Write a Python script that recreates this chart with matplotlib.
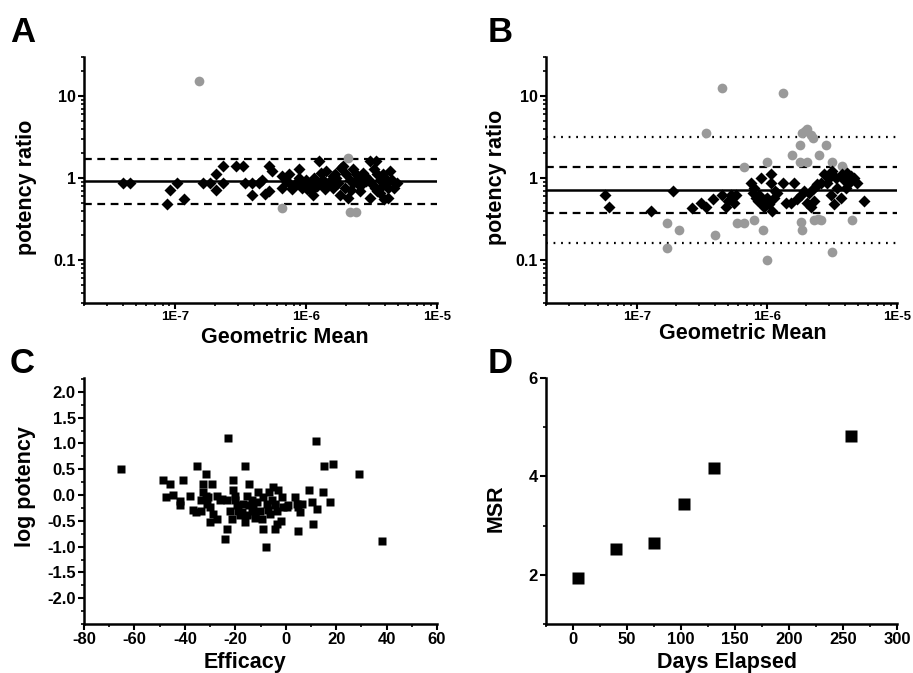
import matplotlib
matplotlib.use("Agg")
import matplotlib.pyplot as plt
import numpy as np
from matplotlib.ticker import FixedLocator, LogLocator, NullFormatter, MultipleLocator, FixedFormatter

plt.rcParams['font.family'] = ['Liberation Sans', 'DejaVu Sans']
plt.rcParams['font.weight'] = 'bold'
plt.rcParams['axes.unicode_minus'] = False

# ---------------- Panel A data ----------------
a_black_x = [4.0e-8, 4.5e-8, 8.6e-8, 9.1e-8, 1.03e-7, 1.16e-7, 1.63e-7, 1.83e-7, 2.06e-7, 2.06e-7,
             2.32e-7, 2.32e-7, 2.89e-7, 3.26e-7, 3.42e-7, 3.85e-7, 3.85e-7, 4.33e-7, 4.6e-7, 4.88e-7,
             5.18e-7, 5.49e-7, 5.2e-7, 6.56e-7, 6.56e-7, 7.0e-7, 7.39e-7, 7.39e-7, 7.84e-7, 8.32e-7,
             8.83e-7, 8.83e-7, 9.66e-7, 9.3e-7, 1.02e-6, 1.09e-6, 1.12e-6, 1.15e-6, 1.26e-6, 1.26e-6,
             1.30e-6, 1.38e-6, 1.42e-6, 1.51e-6, 1.60e-6, 1.60e-6, 1.65e-6, 1.75e-6, 1.80e-6, 1.85e-6,
             1.97e-6, 2.03e-6, 2.09e-6, 2.28e-6, 2.28e-6, 2.42e-6, 2.57e-6, 2.73e-6, 2.89e-6, 3.07e-6,
             3.07e-6, 3.36e-6, 3.46e-6, 3.67e-6, 3.67e-6, 3.89e-6, 4.13e-6, 4.25e-6, 4.38e-6, 4.65e-6,
             4.94e-6, 1.0e-6, 1.2e-6, 1.45e-6, 1.7e-6, 2.15e-6, 2.5e-6, 2.6e-6, 2.8e-6, 3.2e-6,
             3.3e-6, 3.5e-6, 3.8e-6, 4.0e-6, 4.2e-6, 4.5e-6, 3.0e-6, 2.2e-6, 1.9e-6, 3.4e-6,
             1.35e-6, 8.0e-7, 9.0e-7, 1.05e-6, 3.9e-6]
a_black_y = [0.88, 0.88, 0.49, 0.71, 0.88, 0.56, 0.88, 0.88, 0.71, 1.11,
             0.88, 1.40, 1.40, 1.40, 0.88, 0.63, 0.88, 0.88, 0.95, 0.64,
             1.40, 1.22, 0.69, 1.06, 0.76, 0.92, 0.88, 1.11, 0.73, 0.88,
             1.01, 1.28, 0.88, 0.76, 0.73, 0.69, 0.63, 1.01, 0.88, 1.61,
             1.16, 0.73, 1.22, 0.92, 0.76, 1.06, 1.11, 0.88, 0.63, 1.34,
             0.76, 1.11, 0.58, 0.88, 1.28, 1.11, 0.80, 1.16, 0.92, 0.58,
             1.61, 0.76, 1.11, 0.95, 0.66, 1.11, 0.88, 0.58, 1.22, 0.76,
             0.88, 0.95, 0.80, 0.85, 1.00, 0.95, 1.00, 0.70, 1.05, 0.85,
             1.30, 0.70, 0.80, 1.00, 0.75, 0.95, 0.95, 0.72, 1.40, 1.60,
             0.95, 0.80, 0.92, 0.85, 0.55]
a_grey_x = [1.51e-7, 6.5e-7, 2.07e-6, 2.16e-6, 2.42e-6]
a_grey_y = [15.5, 0.43, 1.77, 0.39, 0.39]
a_mean, a_upper, a_lower = 0.92, 1.72, 0.49

# ---------------- Panel B data ----------------
b_black_x = [5.7e-8, 6.1e-8, 1.29e-7, 1.90e-7, 2.65e-7, 3.11e-7, 3.40e-7, 3.82e-7, 4.55e-7, 4.98e-7,
             4.84e-7, 5.28e-7, 5.78e-7, 5.6e-7, 7.52e-7, 7.75e-7, 8.21e-7, 8.71e-7, 9.24e-7, 9.80e-7,
             1.04e-6, 1.10e-6, 8.97e-7, 1.07e-6, 1.07e-6, 1.13e-6, 1.34e-6, 1.39e-6, 1.52e-6, 1.61e-6,
             1.71e-6, 1.82e-6, 1.93e-6, 2.04e-6, 2.17e-6, 2.30e-6, 2.30e-6, 2.44e-6, 2.59e-6, 2.74e-6,
             2.91e-6, 3.09e-6, 3.18e-6, 3.27e-6, 3.37e-6, 3.47e-6, 3.68e-6, 3.79e-6, 4.02e-6, 4.14e-6,
             4.27e-6, 4.66e-6, 4.94e-6, 5.55e-6, 8.5e-7, 9.5e-7, 1.0e-6, 1.15e-6, 8.0e-7, 2.1e-6,
             3.0e-6, 3.9e-6, 4.4e-6, 1.2e-6, 2.4e-6]
b_black_y = [0.63, 0.44, 0.40, 0.69, 0.43, 0.50, 0.44, 0.55, 0.63, 0.53,
             0.44, 0.63, 0.63, 0.50, 0.88, 0.66, 0.58, 0.63, 0.48, 0.55,
             0.48, 0.40, 1.01, 1.11, 0.88, 0.58, 0.88, 0.50, 0.50, 0.88,
             0.55, 0.63, 0.69, 0.50, 0.44, 0.76, 0.53, 0.84, 0.88, 1.11,
             0.88, 0.63, 1.22, 0.48, 1.01, 0.76, 0.58, 1.11, 0.76, 1.16,
             0.88, 1.01, 0.88, 0.53, 0.53, 0.44, 0.58, 0.69, 0.76, 0.66,
             1.00, 0.95, 1.05, 0.66, 0.80]
b_grey_x = [4.51e-7, 1.33e-6, 3.40e-7, 1.70e-7, 1.70e-7, 2.12e-7, 3.98e-7, 6.68e-7, 5.93e-7, 6.68e-7,
            7.97e-7, 9.4e-7, 1.0e-6, 1.0e-6, 1.57e-6, 1.79e-6, 1.79e-6, 2.04e-6, 1.82e-6, 1.87e-6,
            1.87e-6, 2.04e-6, 2.17e-6, 2.24e-6, 2.51e-6, 2.82e-6, 3.18e-6, 3.18e-6, 3.79e-6, 4.5e-6,
            2.3e-6, 2.45e-6, 2.6e-6, 1.95e-6]
b_grey_y = [12.4, 11.0, 3.51, 0.28, 0.14, 0.23, 0.20, 1.37, 0.28, 0.28,
            0.31, 0.23, 0.10, 1.57, 1.94, 2.53, 1.58, 1.58, 0.29, 0.23,
            3.57, 3.92, 3.40, 3.10, 1.94, 2.53, 1.58, 0.126, 1.40, 0.31,
            0.31, 0.32, 0.31, 3.75]
b_mean, b_upper, b_lower = 0.71, 1.36, 0.38
b_upper_lim, b_lower_lim = 3.19, 0.16

# ---------------- Panel C data ----------------
c_efficacy = [-65.4, -22.8, 12.1, 18.9, 15.0, 29.1, 38.1, -35.1, -16.2, -31.8,
              -48.6, -46.0, -40.9, -20.8, -14.4, -32.7, -29.4, -44.6, -47.5, -38.0,
              -42.0, -42.0, -36.7, -35.6, -33.4, -32.7, -31.8, -31.4, -30.7, -30.1,
              -28.7, -30.1, -27.4, -27.4, -25.4, -20.8, -20.1, -20.1, -19.5, -18.8,
              -18.1, -21.5, -16.8, -15.5, -14.4, -13.5, -12.8, -12.2, -15.5, -16.2,
              -10.9, -8.9, -7.5, -6.9, -4.9, -4.2, -3.6, -4.2, -3.6, -1.6,
              -0.9, -4.2, 0.4, 3.7, 4.4, 5.0, 5.7, 6.4, 5.0, -23.4,
              -24.1, -8.9, -7.8, 9.4, 14.7, 17.6, 12.6, 11.0, 10.3, -10.2,
              -11.5, -6.2, -5.6, -9.5, -13.5, -17.5, -22.0, -23.4, -26.0, -33.5,
              -2.0, 1.0, -3.0, -6.5, -12.0]
c_logpot = [0.51, 1.11, 1.05, 0.61, 0.56, 0.40, -0.90, 0.56, 0.56, 0.40,
            0.30, 0.21, 0.30, 0.30, 0.21, 0.21, 0.21, 0.01, -0.04, -0.01,
            -0.12, -0.20, -0.28, -0.33, -0.10, 0.06, -0.01, -0.17, -0.04, -0.23,
            -0.36, -0.52, -0.46, -0.01, -0.07, 0.09, -0.01, -0.10, -0.20, -0.30,
            -0.39, -0.46, -0.17, -0.01, -0.20, -0.30, -0.23, -0.36, -0.39, -0.52,
            0.05, -0.04, -0.17, -0.28, 0.16, -0.20, -0.30, -0.65, -0.56, -0.04,
            -0.23, -0.17, -0.23, -0.04, -0.17, -0.23, -0.33, -0.17, -0.69, -0.65,
            -0.85, -0.65, -1.00, 0.10, 0.06, -0.14, -0.27, -0.56, -0.14, -0.30,
            -0.14, -0.36, -0.10, -0.46, -0.10, -0.33, -0.30, -0.10, -0.10, -0.30,
            -0.50, -0.20, 0.10, 0.05, -0.45]

# ---------------- Panel D data ----------------
d_days = [5, 40, 75, 103, 131, 257]
d_msr = [1.93, 2.52, 2.65, 3.44, 4.18, 4.82]

W, H = 913, 673
fig = plt.figure(figsize=(W / 100, H / 100), dpi=100)

def ax_at(x0, y0, x1, y1):
    return fig.add_axes([x0 / W, 1 - y1 / H, (x1 - x0) / W, (y1 - y0) / H])

def style(ax, xsize=11.5, ysize=11.5):
    for s in ['top', 'right']:
        ax.spines[s].set_visible(False)
    for s in ['left', 'bottom']:
        ax.spines[s].set_linewidth(1.8)
    ax.tick_params(which='major', length=4, width=1.5, direction='out', pad=2)
    ax.tick_params(which='minor', length=2.5, width=1.2, direction='out')
    ax.tick_params(axis='x', which='major', labelsize=xsize)
    ax.tick_params(axis='y', which='major', labelsize=ysize)
    for lab in ax.get_xticklabels() + ax.get_yticklabels():
        lab.set_fontweight('bold')

lblkw = dict(fontsize=15.5, fontweight='bold')
panelkw = dict(fontsize=25, fontweight='bold')

def log_panel(ax):
    ax.set_xscale('log')
    ax.set_yscale('log')
    ax.set_xlim(2e-8, 1e-5)
    ax.set_ylim(0.03, 30)
    ax.xaxis.set_major_locator(FixedLocator([1e-7, 1e-6, 1e-5]))
    ax.xaxis.set_major_formatter(FixedFormatter(['1E-7', '1E-6', '1E-5']))
    ax.xaxis.set_minor_locator(LogLocator(base=10, subs=np.arange(2, 10)))
    ax.xaxis.set_minor_formatter(NullFormatter())
    ax.yaxis.set_major_locator(FixedLocator([0.1, 1, 10]))
    ax.yaxis.set_major_formatter(FixedFormatter(['0.1', '1', '10']))
    ax.yaxis.set_minor_locator(LogLocator(base=10, subs=np.arange(2, 10)))
    ax.yaxis.set_minor_formatter(NullFormatter())
    ax.set_xlabel('Geometric Mean', **lblkw)
    ax.set_ylabel('potency ratio', **lblkw)

# Panel A
axA = ax_at(84, 57, 437, 303)
log_panel(axA)
axA.axhline(a_mean, color='black', lw=1.8, zorder=1)
for v in (a_upper, a_lower):
    axA.axhline(v, color='black', lw=1.6, ls=(0, (3.5, 2.5)), zorder=1)
axA.plot(a_grey_x, a_grey_y, 'o', color='#999999', ms=7, mec='none', zorder=2)
axA.plot(a_black_x, a_black_y, 'D', color='black', ms=6.5, mec='none', zorder=3)
style(axA, xsize=9.5, ysize=11.5)
axA.xaxis.set_label_coords(0.57, -0.098)
axA.yaxis.set_label_coords(-0.133, 0.47)

# Panel B
axB = ax_at(546, 57, 897, 303)
log_panel(axB)
axB.axhline(b_mean, color='black', lw=1.8, zorder=1)
for v in (b_upper, b_lower):
    axB.axhline(v, color='black', lw=1.6, ls=(0, (3.5, 2.5)), zorder=1)
for v in (b_upper_lim, b_lower_lim):
    axB.axhline(v, color='black', lw=1.6, ls=(0, (0.8, 2.6)), zorder=1)
axB.plot(b_grey_x, b_grey_y, 'o', color='#999999', ms=7, mec='none', zorder=2)
axB.plot(b_black_x, b_black_y, 'D', color='black', ms=6.5, mec='none', zorder=3)
style(axB, xsize=9.5, ysize=11.5)
axB.xaxis.set_label_coords(0.56, -0.081)
axB.yaxis.set_label_coords(-0.111, 0.51)

# Panel C
axC = ax_at(84, 378, 437, 624)
axC.plot(c_efficacy, c_logpot, 's', color='black', ms=5.5, mec='none')
axC.set_xlim(-80, 60)
axC.set_ylim(-2.5, 2.27)
axC.xaxis.set_major_locator(MultipleLocator(20))
axC.xaxis.set_minor_locator(MultipleLocator(10))
axC.yaxis.set_major_locator(FixedLocator([-2.0, -1.5, -1.0, -0.5, 0.0, 0.5, 1.0, 1.5, 2.0]))
axC.yaxis.set_major_formatter(FixedFormatter(['-2.0', '-1.5', '-1.0', '-0.5', '0.0', '0.5', '1.0', '1.5', '2.0']))
axC.yaxis.set_minor_locator(MultipleLocator(0.25))
axC.set_xlabel('Efficacy', **lblkw)
axC.set_ylabel('log potency', **lblkw)
style(axC, xsize=12, ysize=12)
axC.xaxis.set_label_coords(0.456, -0.114)
axC.yaxis.set_label_coords(-0.136, 0.56)

# Panel D
axD = ax_at(546, 378, 897, 624)
axD.plot(d_days, d_msr, 's', color='black', ms=8, mec='none')
axD.set_xlim(-25, 300)
axD.set_ylim(1, 6)
axD.xaxis.set_major_locator(FixedLocator([0, 50, 100, 150, 200, 250, 300]))
axD.xaxis.set_minor_locator(FixedLocator([-25, 25, 75, 125, 175, 225, 275]))
axD.yaxis.set_major_locator(FixedLocator([2, 4, 6]))
axD.yaxis.set_minor_locator(FixedLocator([1, 3, 5]))
axD.set_xlabel('Days Elapsed', **lblkw)
axD.set_ylabel('MSR', **lblkw)
style(axD, xsize=12, ysize=12)
axD.xaxis.set_label_coords(0.516, -0.114)
axD.yaxis.set_label_coords(-0.111, 0.47)

# panel letters
fig.text(10 / W, 1 - 42 / H, 'A', **panelkw)
fig.text(488 / W, 1 - 42 / H, 'B', **panelkw)
fig.text(10 / W, 1 - 373 / H, 'C', **panelkw)
fig.text(488 / W, 1 - 373 / H, 'D', **panelkw)

fig.savefig('out.png', dpi=100)
